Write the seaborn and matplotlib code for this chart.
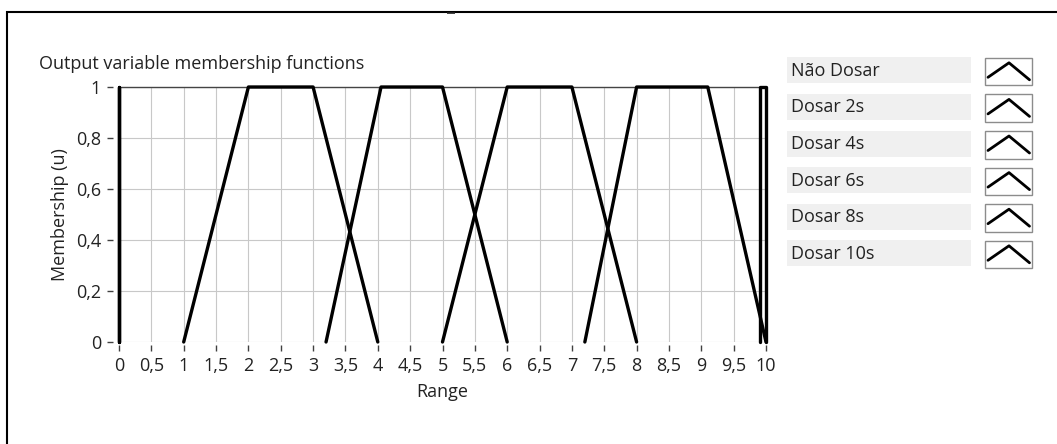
import numpy as np
import pandas as pd
import matplotlib.pyplot as plt
import seaborn as sns
from matplotlib.patches import Rectangle

# membership functions, trapezoid corners
names = ["Não Dosar", "Dosar 2s", "Dosar 4s", "Dosar 6s", "Dosar 8s", "Dosar 10s"]
corners = [
    [0, 0, 0, 0],
    [1, 2, 3, 4],
    [3.2, 4.05, 5, 6],
    [5, 6, 7, 8],
    [7.2, 8, 9.1, 10],
    [9.9, 9.9, 10, 10],
]
levels = [0, 1, 1, 0]

x_ticks = [0, 0.5, 1, 1.5, 2, 2.5, 3, 3.5, 4, 4.5, 5, 5.5, 6, 6.5, 7, 7.5, 8, 8.5, 9, 9.5, 10]
x_labels = ["0", "0,5", "1", "1,5", "2", "2,5", "3", "3,5", "4", "4,5", "5",
            "5,5", "6", "6,5", "7", "7,5", "8", "8,5", "9", "9,5", "10"]
y_ticks = [0, 0.2, 0.4, 0.6, 0.8, 1]
y_labels = ["0", "0,2", "0,4", "0,6", "0,8", "1"]

rows = []
for name, c in zip(names, corners):
    for i, (xv, yv) in enumerate(zip(c, levels)):
        rows.append({"name": name, "order": i, "x": xv, "y": yv})
df = pd.DataFrame(rows)

sns.set_style("white")
plt.rcParams['font.family'] = ['Open Sans', 'DejaVu Sans']
plt.rcParams['font.size'] = 13
txt = '#222222'

W, H = 1057, 444
fig = plt.figure(figsize=(W / 100, H / 100), dpi=100)


def box(l, t, r, b):
    return [l / W, 1 - b / H, (r - l) / W, (b - t) / H]


# overlay for frame + legend, pixel coords
ov = fig.add_axes([0, 0, 1, 1])
ov.set_xlim(0, W)
ov.set_ylim(H, 0)
ov.axis('off')

ax = fig.add_axes(box(119, 87, 766, 342))
sns.lineplot(data=df, x="x", y="y", units="name", estimator=None, sort=False,
             color="black", lw=2.4, ax=ax, legend=False)
for ln in ax.lines:
    ln.set_clip_on(False)
    ln.set_zorder(5)

ax.set_xlim(0, 10)
ax.set_ylim(0, 1)
ax.set_xticks(x_ticks, x_labels)
ax.set_yticks(y_ticks, y_labels)
ax.grid(True, color='#c8c8c8', lw=0.8)
ax.set_axisbelow(True)
ax.spines['left'].set_position(('outward', 4))
ax.spines['bottom'].set_position(('outward', 2))
ax.spines['left'].set_visible(False)
ax.spines['bottom'].set_visible(False)
ax.spines['right'].set_visible(False)
ax.spines['top'].set_color('#444444')
ax.spines['top'].set_linewidth(1)
ax.tick_params(axis='both', direction='out', length=4, width=1, color='#404040',
               labelcolor=txt, labelsize=13, left=True, bottom=True)
ax.tick_params(axis='y', pad=5)
ax.tick_params(axis='x', pad=5)

ax.set_xlabel("Range", fontsize=13, color=txt)
ax.xaxis.label.set_va('baseline')
ax.xaxis.set_label_coords(0.5, (342 - 397) / 255)
ax.set_ylabel("Membership (u)", fontsize=13, color=txt)
ax.yaxis.label.set_va('center')
ax.yaxis.set_label_coords((60 - 119) / 647, 0.5)

fig.text(39 / W, 1 - 69 / H, "Output variable membership functions",
         fontsize=13, color=txt, ha='left', va='baseline')

# outer frame (only top/left visible in the crop)
ov.plot([7, 7, W], [H, 12, 12], color='black', lw=1.5, solid_joinstyle='miter')
ov.plot([447, 455], [13.5, 13.5], color='#222222', lw=1.2, solid_capstyle='butt')

# legend panel
top0, pitch = 57.3, 36.6
for i, name in enumerate(names):
    t = top0 + i * pitch
    ov.add_patch(Rectangle((787, t), 184, 26, facecolor='#f0f0f0', edgecolor='none'))
    ov.text(791, t + 13.5, name, fontsize=13, color=txt, ha='left', va='center')
    ov.add_patch(Rectangle((985, t + 0.5), 47, 27.5, facecolor='white',
                           edgecolor='#8c8c8c', lw=1))
    ov.plot([988, 1009, 1029.5], [t + 20, t + 5.5, t + 22.5], color='black', lw=2)

fig.savefig("out.png", dpi=100, facecolor='white')
